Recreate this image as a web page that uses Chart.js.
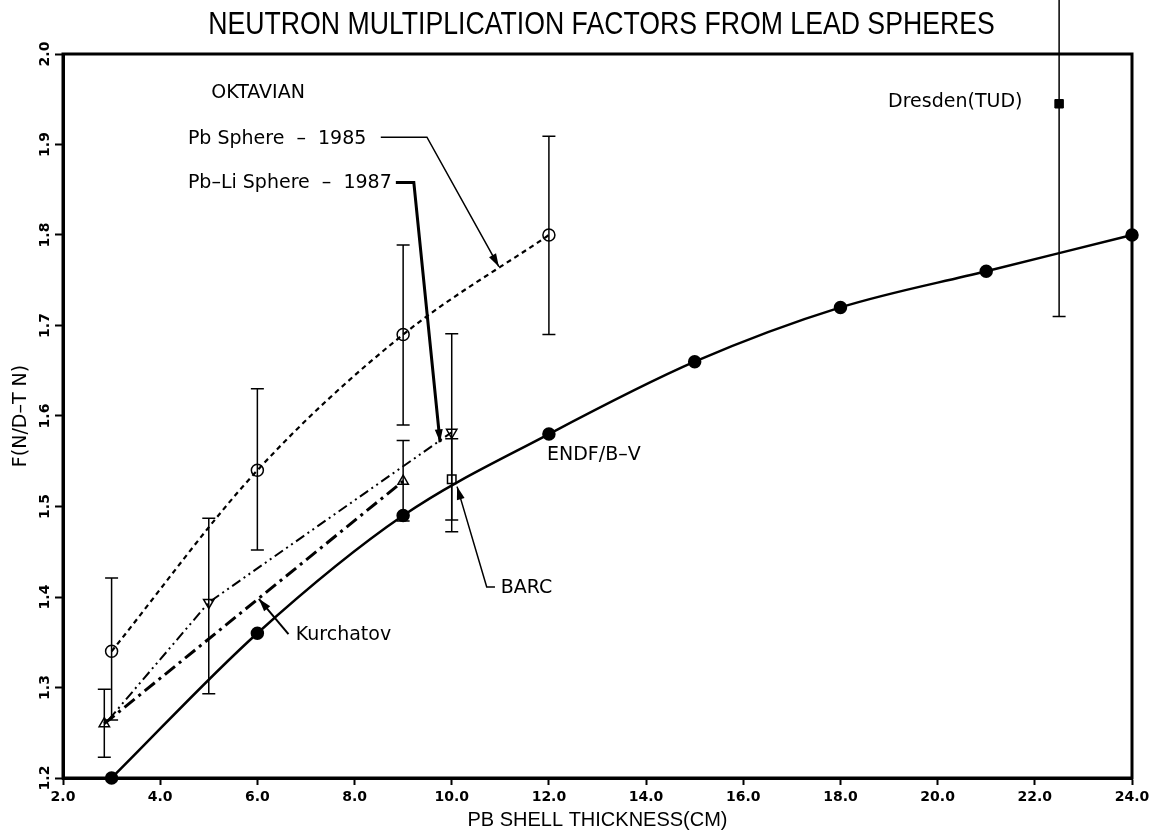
<!DOCTYPE html>
<html>
<head>
<meta charset="utf-8">
<script src="https://cdn.jsdelivr.net/npm/chart.js@4.4.1/dist/chart.umd.min.js"></script>
<style>
    html, body { margin: 0; padding: 0; background: #fff; }
    #conteneur { width: 1154px; height: 832px; }
</style>
</head>
<body>
<div id="conteneur"><canvas id="graphique"></canvas></div>
<script>
// Épaisseur de la coquille de plomb (cm) et facteur de multiplication F(N/D-T N)

// ENDF/B-V (calcul)
const endfX = [3, 6, 9, 12, 15, 18, 21, 24];
const endfY = [1.20, 1.36, 1.49, 1.58, 1.66, 1.72, 1.76, 1.80];

// OKTAVIAN, sphère Pb 1985
const pbX = [3, 6, 9, 12];
const pbY = [1.34, 1.54, 1.69, 1.80];
const pbBas = [1.264, 1.452, 1.590, 1.690];
const pbHaut = [1.421, 1.630, 1.789, 1.909];

// OKTAVIAN, sphère Pb-Li 1987 (le premier point n'est que le début de la courbe)
const pbLiX = [2.95, 5, 10];
const pbLiY = [1.265, 1.394, 1.582];
const pbLiBas = [null, 1.293, 1.472];
const pbLiHaut = [null, 1.487, 1.691];

// Kurchatov
const kurX = [2.85, 9];
const kurY = [1.26, 1.528];
const kurBas = [1.223, 1.484];
const kurHaut = [1.298, 1.573];

// BARC
const barcX = [10];
const barcY = [1.53];
const barcBas = [1.485];
const barcHaut = [1.575];

// Dresden (TUD)
const dresdenX = [22.5];
const dresdenY = [1.945];
const dresdenBas = [1.71];
const dresdenHaut = [2.18];

// Graduations
const ticksX = [2, 4, 6, 8, 10, 12, 14, 16, 18, 20, 22, 24];
const ticksY = [1.2, 1.3, 1.4, 1.5, 1.6, 1.7, 1.8, 1.9, 2.0];

const titre = 'NEUTRON MULTIPLICATION FACTORS FROM LEAD SPHERES';

// Textes et flèches de la figure, en coordonnées des données
const etiquettes = [
    { texte: 'OKTAVIAN', x: 5.05, y: 1.957 },
    { texte: 'Pb Sphere  –  1985', x: 4.57, y: 1.906 },
    { texte: 'Pb–Li Sphere  –  1987', x: 4.57, y: 1.857 },
    { texte: 'Kurchatov', x: 6.79, y: 1.358 },
    { texte: 'BARC', x: 11.01, y: 1.410 },
    { texte: 'ENDF/B–V', x: 11.96, y: 1.557 },
    { texte: 'Dresden(TUD)', x: 18.98, y: 1.947 },
];
const fleches = [
    { points: [[8.54, 1.908], [9.49, 1.908], [10.97, 1.765]], epaisseur: 1.5 },
    { points: [[8.85, 1.858], [9.22, 1.858], [9.76, 1.571]], epaisseur: 3 },
    { points: [[6.64, 1.359], [6.03, 1.398]], epaisseur: 2 },
    { points: [[10.89, 1.411], [10.72, 1.411], [10.11, 1.522]], epaisseur: 1.5 },
];


function versPoints(xs, ys) {
    /**
     * Assemble deux listes en points {x, y} pour Chart.js
     */
    return xs.map((x, i) => ({ x: x, y: ys[i] }));
}


function versBarres(xs, bas, haut) {
    return xs.map((x, i) => ({ x: x, bas: bas[i], haut: haut[i] }))
        .filter(b => b.bas !== null);
}

const barresErreur = [
    ...versBarres(pbX, pbBas, pbHaut),
    ...versBarres(pbLiX, pbLiBas, pbLiHaut),
    ...versBarres(kurX, kurBas, kurHaut),
    ...versBarres(barcX, barcBas, barcHaut),
    ...versBarres(dresdenX, dresdenBas, dresdenHaut),
];


function dessinerPointeFleche(ctx, x1, y1, x2, y2) {
    /**
     * Dessine une pointe de flèche pleine en (x2, y2), venant de (x1, y1)
     */
    const angle = Math.atan2(y2 - y1, x2 - x1);
    const longueur = 13;
    const demi = 4;
    ctx.beginPath();
    ctx.moveTo(x2, y2);
    ctx.lineTo(x2 - longueur * Math.cos(angle) + demi * Math.sin(angle),
               y2 - longueur * Math.sin(angle) - demi * Math.cos(angle));
    ctx.lineTo(x2 - longueur * Math.cos(angle) - demi * Math.sin(angle),
               y2 - longueur * Math.sin(angle) + demi * Math.cos(angle));
    ctx.closePath();
    ctx.fill();
}


const pluginDecor = {
    id: 'decor',
    afterDatasetsDraw(chart) {
        const ctx = chart.ctx;
        const sx = chart.scales.x;
        const sy = chart.scales.y;
        const zone = chart.chartArea;
        ctx.save();
        ctx.strokeStyle = '#000';
        ctx.fillStyle = '#000';

        // Barres d'erreur
        ctx.lineWidth = 1.5;
        ctx.setLineDash([]);
        barresErreur.forEach(b => {
            const px = sx.getPixelForValue(b.x);
            const yb = sy.getPixelForValue(b.bas);
            const yh = sy.getPixelForValue(b.haut);
            ctx.beginPath();
            ctx.moveTo(px, yb);
            ctx.lineTo(px, yh);
            ctx.moveTo(px - 6.5, yb);
            ctx.lineTo(px + 6.5, yb);
            ctx.moveTo(px - 6.5, yh);
            ctx.lineTo(px + 6.5, yh);
            ctx.stroke();
        });

        // Cadre
        ctx.lineWidth = 3;
        ctx.strokeRect(zone.left, zone.top, zone.right - zone.left, zone.bottom - zone.top);

        // Titre, en police resserrée
        ctx.save();
        ctx.font = '31px "Liberation Sans"';
        ctx.textAlign = 'center';
        ctx.textBaseline = 'middle';
        ctx.translate((zone.left + zone.right) / 2 + 4, 25);
        ctx.scale(0.86, 1);
        ctx.fillText(titre, 0, 0);
        ctx.restore();

        // Étiquettes de l'axe Y, tournées
        ctx.font = 'bold 14px "DejaVu Sans"';
        ctx.textAlign = 'center';
        ctx.textBaseline = 'middle';
        ticksY.forEach(v => {
            ctx.save();
            ctx.translate(zone.left - 18, sy.getPixelForValue(v));
            ctx.rotate(-Math.PI / 2);
            ctx.fillText(v.toFixed(1), 0, 0);
            ctx.restore();
        });

        // Textes
        ctx.font = '19px "DejaVu Sans"';
        ctx.textAlign = 'left';
        etiquettes.forEach(e => {
            ctx.fillText(e.texte, sx.getPixelForValue(e.x), sy.getPixelForValue(e.y));
        });

        // Flèches
        fleches.forEach(f => {
            const pts = f.points.map(p => [sx.getPixelForValue(p[0]), sy.getPixelForValue(p[1])]);
            ctx.lineWidth = f.epaisseur;
            ctx.beginPath();
            pts.forEach((p, i) => i === 0 ? ctx.moveTo(p[0], p[1]) : ctx.lineTo(p[0], p[1]));
            ctx.stroke();
            const n = pts.length;
            dessinerPointeFleche(ctx, pts[n - 2][0], pts[n - 2][1], pts[n - 1][0], pts[n - 1][1]);
        });
        ctx.restore();
    }
};


const police = '"DejaVu Sans"';

new Chart(document.getElementById('graphique'), {
    type: 'scatter',
    data: {
        datasets: [
            {
                label: 'ENDF/B-V',
                data: versPoints(endfX, endfY),
                showLine: true,
                borderColor: '#000',
                borderWidth: 2.5,
                cubicInterpolationMode: 'monotone',
                pointStyle: 'circle',
                pointRadius: 5.5,
                pointBackgroundColor: '#000',
                pointBorderColor: '#000',
                clip: false,
            },
            {
                label: 'Pb Sphere - 1985',
                data: versPoints(pbX, pbY),
                showLine: true,
                borderColor: '#000',
                borderWidth: 2.2,
                borderDash: [5, 4],
                cubicInterpolationMode: 'monotone',
                pointStyle: 'circle',
                pointRadius: 6,
                pointBorderWidth: 1.5,
                pointBackgroundColor: 'rgba(0,0,0,0)',
                pointBorderColor: '#000',
                clip: false,
            },
            {
                label: 'Pb-Li Sphere - 1987',
                data: versPoints(pbLiX, pbLiY),
                showLine: true,
                borderColor: '#000',
                borderWidth: 2,
                borderDash: [10, 4, 2, 4, 2, 4],
                pointStyle: 'triangle',
                rotation: 180,
                pointRadius: [0, 6, 6],
                pointBorderWidth: 1.5,
                pointBackgroundColor: 'rgba(0,0,0,0)',
                pointBorderColor: '#000',
                clip: false,
            },
            {
                label: 'Kurchatov',
                data: versPoints(kurX, kurY),
                showLine: true,
                borderColor: '#000',
                borderWidth: 3,
                borderDash: [13, 5, 3, 5],
                pointStyle: 'triangle',
                pointRadius: 6,
                pointBorderWidth: 1.5,
                pointBackgroundColor: 'rgba(0,0,0,0)',
                pointBorderColor: '#000',
                clip: false,
            },
            {
                label: 'BARC',
                data: versPoints(barcX, barcY),
                pointStyle: 'rect',
                pointRadius: 6,
                pointBorderWidth: 1.5,
                pointBackgroundColor: 'rgba(0,0,0,0)',
                pointBorderColor: '#000',
                clip: false,
            },
            {
                label: 'Dresden(TUD)',
                data: versPoints(dresdenX, dresdenY),
                pointStyle: 'rect',
                pointRadius: 6,
                pointBackgroundColor: '#000',
                pointBorderColor: '#000',
                clip: false,
            },
        ],
    },
    options: {
        responsive: true,
        maintainAspectRatio: false,
        animation: false,
        devicePixelRatio: 1,
        layout: { padding: { left: 0, right: 22, top: 54, bottom: 0 } },
        scales: {
            x: {
                type: 'linear',
                min: 2,
                max: 24,
                afterBuildTicks: (axe) => { axe.ticks = ticksX.map(v => ({ value: v })); },
                afterFit: (axe) => { axe.height = 54; },
                ticks: {
                    callback: (v) => Number(v).toFixed(1),
                    color: '#000',
                    font: { family: police, size: 14, weight: 'bold' },
                    padding: 4,
                    maxRotation: 0,
                    autoSkip: false,
                },
                grid: { drawOnChartArea: false, drawTicks: true, tickLength: 7, tickWidth: 2, color: '#000' },
                border: { color: '#000', width: 3 },
                title: {
                    display: true,
                    text: 'PB SHELL THICKNESS(CM)',
                    color: '#000',
                    font: { family: '"Liberation Sans"', size: 20, lineHeight: 1 },
                    padding: { top: 0, bottom: 2 },
                },
            },
            y: {
                type: 'linear',
                min: 1.2,
                max: 2.0,
                afterBuildTicks: (axe) => { axe.ticks = ticksY.map(v => ({ value: v })); },
                afterFit: (axe) => { axe.width = 63; },
                ticks: { display: false },
                grid: { drawOnChartArea: false, drawTicks: true, tickLength: 8, tickWidth: 2, color: '#000' },
                border: { color: '#000', width: 3 },
                title: {
                    display: true,
                    text: 'F(N/D–T N)',
                    color: '#000',
                    font: { family: police, size: 19 },
                    padding: { top: 10, bottom: 0 },
                },
            },
        },
        plugins: {
            legend: { display: false },
            tooltip: { enabled: false },
            title: { display: false },
        },
    },
    plugins: [pluginDecor],
});
</script>
</body>
</html>
